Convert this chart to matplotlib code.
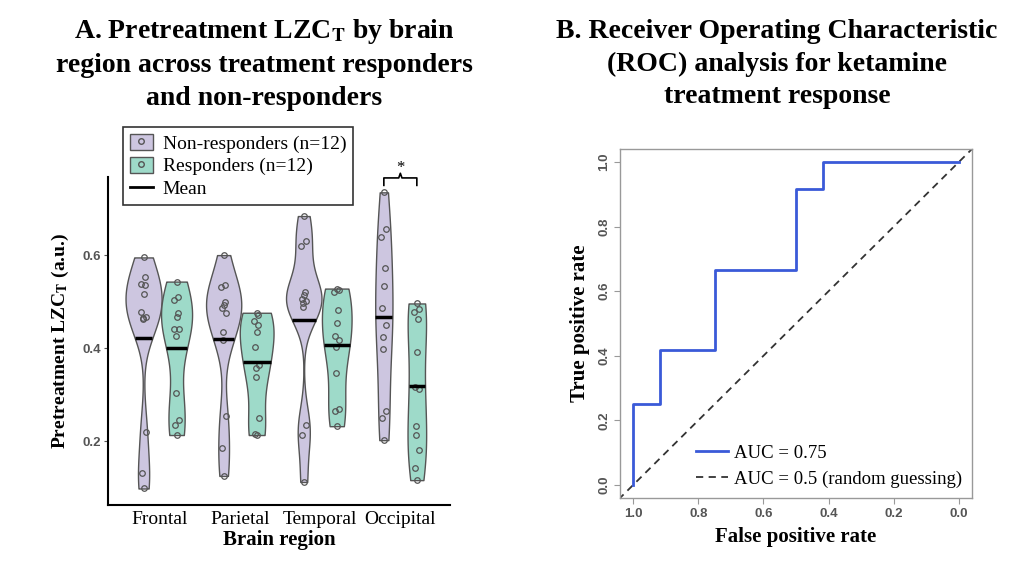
import numpy as np
import matplotlib
matplotlib.use("Agg")
import matplotlib.pyplot as plt
from matplotlib.patches import Patch
from matplotlib.lines import Line2D

plt.rcParams['font.family'] = ['Liberation Serif', 'DejaVu Serif']
plt.rcParams['mathtext.fontset'] = 'stix'

# ---- data ----
regions = ["Frontal", "Parietal", "Temporal", "Occipital"]

nonresp = {
    "Frontal":   [0.595, 0.552, 0.538, 0.535, 0.516, 0.478, 0.466, 0.464, 0.462, 0.220, 0.132, 0.098],
    "Parietal":  [0.600, 0.535, 0.532, 0.500, 0.492, 0.487, 0.476, 0.434, 0.417, 0.254, 0.186, 0.125],
    "Temporal":  [0.684, 0.631, 0.619, 0.521, 0.514, 0.505, 0.501, 0.497, 0.489, 0.234, 0.213, 0.112],
    "Occipital": [0.735, 0.656, 0.639, 0.573, 0.534, 0.487, 0.449, 0.424, 0.399, 0.265, 0.250, 0.202],
}
resp = {
    "Frontal":   [0.543, 0.509, 0.503, 0.476, 0.467, 0.442, 0.440, 0.426, 0.303, 0.245, 0.234, 0.213],
    "Parietal":  [0.476, 0.472, 0.459, 0.449, 0.434, 0.403, 0.363, 0.358, 0.338, 0.249, 0.216, 0.213],
    "Temporal":  [0.528, 0.526, 0.521, 0.483, 0.453, 0.426, 0.417, 0.403, 0.347, 0.270, 0.265, 0.232],
    "Occipital": [0.496, 0.485, 0.478, 0.462, 0.391, 0.317, 0.311, 0.233, 0.214, 0.181, 0.143, 0.116],
}

# ROC curve (specificity on reversed x axis, sensitivity on y)
roc_spec = [1.0, 1.0, 11/12, 11/12, 9/12, 9/12, 6/12, 6/12, 5/12, 5/12, 0.0]
roc_sens = [0.0, 3/12, 3/12, 5/12, 5/12, 8/12, 8/12, 11/12, 11/12, 1.0, 1.0]
auc_label = "AUC = 0.75"
ref_label = "AUC = 0.5 (random guessing)"

col_non = "#cdc6e0"
col_res = "#9edac9"
edge = "#555555"


def kde_nrd0(v):
    v = np.asarray(v)
    n = len(v)
    sd = np.std(v, ddof=1)
    q75, q25 = np.percentile(v, [75, 25])
    bw = 0.9 * min(sd, (q75 - q25) / 1.34) * n ** -0.2
    grid = np.linspace(v.min(), v.max(), 512)
    d = np.exp(-0.5 * ((grid[:, None] - v[None, :]) / bw) ** 2).sum(1) / (n * bw * np.sqrt(2 * np.pi))
    return grid, d


fig = plt.figure(figsize=(10.24, 5.62), dpi=100)

# ---------------- Panel A ----------------
ax = fig.add_axes([108/1024, 1-505/562, 342/1024, 328/562])

dens = {}
for r in regions:
    dens[(r, 0)] = kde_nrd0(nonresp[r])
    dens[(r, 1)] = kde_nrd0(resp[r])
dmax = max(d.max() for g, d in dens.values())
halfw = 0.225
dodge = 0.206
jit = 0.03 * np.sin(np.arange(12) * 2.3)

for i, r in enumerate(regions):
    xc = i + 1
    for k, (vals, col) in enumerate([(nonresp[r], col_non), (resp[r], col_res)]):
        x = xc - dodge if k == 0 else xc + dodge
        g, d = dens[(r, k)]
        w = d / dmax * halfw
        ax.fill_betweenx(g, x - w, x + w, facecolor=col, edgecolor=edge, linewidth=1.0, zorder=2)
        ax.plot(x + jit, vals, 'o', ms=4, mfc='none', mec=edge, mew=0.9, zorder=3)
        m = np.mean(vals)
        wm = np.interp(m, g, w)
        ax.plot([x - wm, x + wm], [m, m], color='black', lw=2.5, solid_capstyle='butt', zorder=4)

# significance bracket for Occipital
bx0, bx1, by = 4 - dodge, 4 + dodge, 0.766
ax.plot([bx0, bx0, 4 - 0.02, 4, 4 + 0.02, bx1, bx1],
        [by - 0.016, by, by, by + 0.01, by, by, by - 0.016],
        color='black', lw=1.2, clip_on=False, zorder=5)
ax.text(4, by + 0.004, "*", ha='center', va='bottom', fontsize=12, clip_on=False)

ax.set_xlim(0.35, 4.62)
ax.set_ylim(0.0625, 0.768)
ax.set_xticks(range(1, 5))
ax.set_xticklabels(regions, fontsize=14)
ax.set_yticks([0.2, 0.4, 0.6])
ax.set_yticklabels(["0.2", "0.4", "0.6"], fontsize=9.5, color='#555555',
                   fontweight='bold', family='Liberation Sans')
ax.tick_params(axis='x', length=0, pad=4)
ax.tick_params(axis='y', length=3, color='#555555', pad=2)
for s in ['top', 'right']:
    ax.spines[s].set_visible(False)
for s in ['left', 'bottom']:
    ax.spines[s].set_linewidth(1.5)
ax.set_xlabel("Brain region", fontsize=15, fontweight='bold', labelpad=2)
ax.set_ylabel("Pretreatment LZC$_\\mathbf{T}$ (a.u.)", fontsize=14, fontweight='bold', labelpad=8)

h_non = (Patch(facecolor=col_non, edgecolor=edge),
         Line2D([], [], marker='o', ls='none', ms=4, mfc='none', mec=edge))
h_res = (Patch(facecolor=col_res, edgecolor=edge),
         Line2D([], [], marker='o', ls='none', ms=4, mfc='none', mec=edge))
h_mean = Line2D([], [], color='black', lw=2)
leg = fig.legend([h_non, h_res, h_mean],
                 ["Non-responders (n=12)", "Responders (n=12)", "Mean"],
                 loc='upper left', bbox_to_anchor=(123/1024, 1-127/562),
                 fontsize=14, frameon=True, fancybox=False, edgecolor='black',
                 handlelength=1.2, handleheight=0.9, handletextpad=0.5,
                 labelspacing=0.2, borderpad=0.35, borderaxespad=0)
leg.get_frame().set_linewidth(1.2)

fig.text(264/1024, 1-64/562,
         "A. Pretreatment LZC$_\\mathbf{T}$ by brain\nregion across treatment responders\nand non-responders",
         ha='center', va='center', fontsize=20, fontweight='bold', linespacing=1.38)

# ---------------- Panel B ----------------
bx = fig.add_axes([620/1024, 1-498/562, 352/1024, 349/562])
bx.plot(roc_spec, roc_sens, color='#3a5ad8', lw=2, label=auc_label, zorder=3)
dl = np.array([-0.1, 1.1])
bx.plot(dl, 1 - dl, color='#333333', ls='--', lw=1.3, dashes=(4, 3), label=ref_label, zorder=2)
bx.set_xlim(1.04, -0.04)
bx.set_ylim(-0.04, 1.04)
ticks = [1.0, 0.8, 0.6, 0.4, 0.2, 0.0]
bx.set_xticks(ticks)
bx.set_xticklabels(["%.1f" % t for t in ticks], fontsize=9.5, color='#555555',
                   fontweight='bold', family='Liberation Sans')
bx.set_yticks(ticks)
bx.set_yticklabels(["%.1f" % t for t in ticks], fontsize=9.5, color='#555555',
                   fontweight='bold', family='Liberation Sans', rotation=90, va='center')
bx.tick_params(length=4, color='#999999', pad=3)
for s in bx.spines.values():
    s.set_color('#999999')
    s.set_linewidth(1.0)
bx.set_xlabel("False positive rate", fontsize=15, fontweight='bold', labelpad=5)
bx.set_ylabel("True positive rate", fontsize=15, fontweight='bold', labelpad=6)
bx.legend(loc='lower right', frameon=False, fontsize=13.5, handlelength=1.7,
          handletextpad=0.3, labelspacing=0.45, borderaxespad=0.15)

fig.text(777/1024, 1-64/562,
         "B. Receiver Operating Characteristic\n(ROC) analysis for ketamine\ntreatment response",
         ha='center', va='center', fontsize=20, fontweight='bold', linespacing=1.38)

fig.savefig("out.png", dpi=100)
